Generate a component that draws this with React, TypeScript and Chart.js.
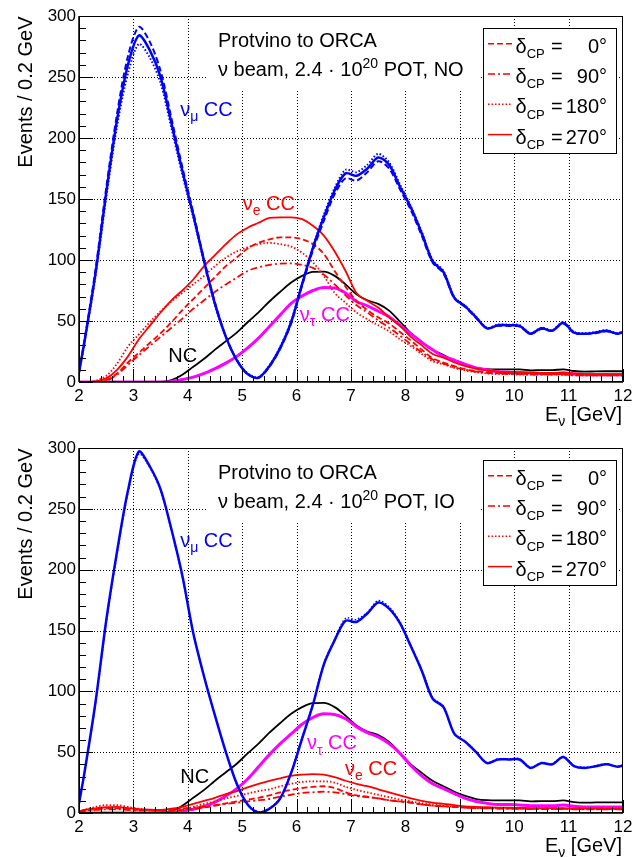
import React, { useEffect, useRef } from "react";
import { Chart, registerables } from "chart.js";

Chart.register(...registerables);

// ---------------- data ----------------
// neutrino energy (GeV): bin centres of 0.2 GeV bins, plus the range ends
const E_NU = [
  2.0, 2.1, 2.3, 2.5, 2.7, 2.9, 3.1, 3.3, 3.5, 3.7,
  3.9, 4.1, 4.3, 4.5, 4.7, 4.9, 5.1, 5.3, 5.5, 5.7,
  5.9, 6.1, 6.3, 6.5, 6.7, 6.9, 7.1, 7.3, 7.5, 7.7,
  7.9, 8.1, 8.3, 8.5, 8.7, 8.9, 9.1, 9.3, 9.5, 9.7,
  9.9, 10.1, 10.3, 10.5, 10.7, 10.9, 11.1, 11.3, 11.5, 11.7,
  11.9, 12.0,
];

const X_TICKS = [2, 3, 4, 5, 6, 7, 8, 9, 10, 11, 12];
const Y_TICKS = [0, 50, 100, 150, 200, 250, 300];
const DELTA_CP = ["0", "90", "180", "270"];

// ---- Normal ordering ----
const NUMU_NO_270 = [
  8, 33, 88, 155, 215, 260, 284, 272, 250, 212,
  173, 137, 99, 64, 37, 18, 6.5, 3.5, 13, 28,
  49, 80, 110, 135, 157, 171, 169, 175, 184, 178,
  160, 143, 122, 99, 90, 69, 62, 53, 44, 46.5,
  46.5, 46, 39.5, 44, 42, 48.5, 40.5, 39.5, 40.5, 42,
  39.5, 41,
];
const NUMU_NO_0 = [
  8, 34, 91, 159, 220, 267, 291, 279, 255, 216,
  176, 139, 100, 65, 37, 18, 6.5, 3.5, 12.5, 27.5,
  48, 79, 108, 132, 154, 167, 165, 172, 181, 175,
  158, 141, 120, 98, 89, 68.5, 61.5, 52.5, 44, 46,
  46, 45.5, 39.5, 43.5, 42, 48, 40, 39.5, 40, 41.5,
  39.5, 40.5,
];
const NUMU_NO_180 = [
  8, 32, 86, 151, 210, 253, 277, 266, 245, 208,
  170, 135, 98, 63, 37, 18, 7, 4, 13.5, 29,
  50, 81, 111, 137, 159, 174, 172, 178, 187, 180,
  162, 144, 123, 100, 91, 69.5, 62.5, 53.5, 44.5, 47,
  47, 46.5, 40, 44.5, 42.5, 49, 41, 40, 41, 42.5,
  40, 41.5,
];
const NUE_NO_0 = [
  0, 0, 0, 1.5, 7, 16, 24, 32, 40, 49,
  59, 68, 77, 86, 95, 102, 109.5, 114, 117, 118.5,
  118.5, 117, 113, 105, 91, 78, 66.5, 59, 53, 48,
  41, 34, 26.5, 19.5, 16, 13, 10.5, 9, 8, 7.5,
  7, 7, 6.5, 6.5, 6.5, 6.5, 6, 6, 6, 6,
  6, 6,
];
const NUE_NO_90 = [
  0, 0, 0, 1, 6, 14, 22, 29.5, 37, 44.5,
  52, 60, 67, 74, 80, 85.5, 91, 94, 96, 97,
  97.3, 96, 93.5, 88, 80, 71, 63, 57, 50.5, 44.5,
  38, 31, 24.5, 18.5, 15, 12, 10, 8.5, 7.5, 7,
  6.5, 6.5, 6, 6, 6, 6, 5.5, 5.5, 5.5, 5.5,
  5.5, 5.5,
];
const NUE_NO_180 = [
  0, 0, 1, 5, 15, 29, 39, 49, 58, 66,
  73, 80, 87, 95, 102, 107, 110.5, 113, 114, 113,
  111, 106, 98, 87, 73, 65, 57, 51.5, 46.5, 41.5,
  35, 29.5, 23, 17, 14.5, 11.5, 9.5, 8, 7, 6.5,
  6.5, 6, 6, 6, 6, 6, 5.5, 5.5, 5.5, 5.5,
  5.5, 5.5,
];
const NUE_NO_270 = [
  0, 0, 0.5, 3, 10, 21, 35, 46, 57, 67,
  75, 84, 95, 104, 113, 121, 126.5, 130.5, 134.5, 135,
  135, 133.5, 128, 120, 107, 91, 73, 66.5, 61, 53,
  46, 37, 30, 23, 20, 16, 13, 11, 9.5, 8.5,
  8, 8, 7.5, 7.5, 7.5, 7.5, 7, 6.5, 6.5, 6.5,
  6.5, 6.5,
];
const NUTAU_NO = [
  0, 0, 0, 0, 0, 0, 0, 0, 0, 0.5,
  2, 4, 7, 11, 15.5, 21, 28, 36, 45.5, 55,
  64.5, 70.5, 75, 77.5, 77, 73, 66, 62.5, 58, 53.5,
  46.5, 39.5, 32.5, 26.5, 21, 18, 14.5, 11.5, 10, 8.5,
  8, 7.5, 7.5, 7, 7, 7.5, 6.5, 6, 6, 6,
  6, 6,
];
// neutral current (same for both orderings)
const NC_ALL = [
  0, 0, 0, 0, 0, 0, 0, 0, 0, 1.5,
  6, 12.5, 19, 26.5, 33.5, 40.5, 49, 57, 66, 74,
  81.5, 87, 90.3, 90.5, 87, 80, 72, 67, 64, 58.5,
  49.5, 40, 33, 26.5, 22, 17.5, 14, 11.5, 10.5, 10.3,
  10.3, 10.3, 9.5, 9.8, 9.8, 10.3, 9, 8.5, 8.7, 8.8,
  8.8, 8.8,
];

// ---- Inverted ordering ----
const NUMU_IO_270 = [
  8, 33, 90, 158, 215, 265, 297, 285, 266, 233,
  195, 148, 112, 80, 50, 24, 7, 0.5, 3.5, 12,
  33, 61, 89, 122, 142, 158, 157, 164, 173, 168,
  156, 137, 117, 94, 87, 65, 58.5, 50, 41, 44,
  44, 44, 37, 41, 40, 46, 38.5, 37, 38.5, 40,
  38, 39,
];
const NUMU_IO_180 = [
  8, 33, 89, 156, 213, 263, 295, 284, 265, 232,
  194, 148, 112, 80, 50, 24, 7, 1, 4, 12.5,
  34, 62, 90, 123, 143, 160, 159, 165, 174.5, 169.5,
  157, 138, 118, 95, 87.5, 65.5, 59, 50.5, 41.5, 44.5,
  44.5, 44.5, 37.5, 41.5, 40.5, 46.5, 39, 37.5, 39, 40.5,
  38.5, 39.5,
];
const NUE_IO_0 = [
  1, 2, 3, 3.8, 3.8, 3, 2.5, 2, 1.8, 2,
  2.5, 3.5, 4.5, 6, 8, 9.5, 11, 12.5, 14.5, 17,
  19, 20.5, 21.5, 22, 20.5, 17, 14.5, 13.5, 12, 10.5,
  9.5, 8.5, 7, 6, 5.5, 5, 4.5, 4, 4, 3.8,
  3.8, 3.6, 3.5, 3.5, 3.5, 3.5, 3.3, 3.2, 3.2, 3.2,
  3.2, 3.2,
];
const NUE_IO_90 = [
  0.5, 1.5, 2.5, 3, 3, 2.5, 2, 2, 2, 2.5,
  3.5, 4.5, 5.5, 6.5, 7.5, 8.5, 9.5, 10.5, 11.5, 13.5,
  15, 16.5, 17, 17.5, 17, 15.5, 14, 13, 12, 10.5,
  9.5, 8.5, 7, 6, 5.5, 5, 4.5, 4, 3.8, 3.6,
  3.5, 3.4, 3.3, 3.3, 3.3, 3.3, 3.1, 3, 3, 3,
  3, 3,
];
const NUE_IO_180 = [
  1, 2.5, 5, 6.5, 6.5, 5, 3.5, 2.5, 2, 2.5,
  3.5, 5, 7.5, 9.5, 12, 14, 16, 18, 19.5, 22,
  24, 25.5, 26, 26, 25, 21.5, 19, 17, 15, 13,
  11, 9.5, 8, 7, 6, 5, 4.5, 4.2, 4, 3.8,
  3.8, 3.6, 3.5, 3.5, 3.5, 3.5, 3.3, 3.2, 3.2, 3.2,
  3.2, 3.2,
];
const NUE_IO_270 = [
  1.5, 2.5, 3.8, 4.8, 5, 4, 3.2, 2.8, 2.6, 3.5,
  5, 7.5, 10, 12.5, 15.5, 18, 21, 24, 26.5, 28.5,
  30.5, 31.5, 32, 31.5, 29.5, 26.5, 24, 22, 19.5, 17,
  14.5, 12, 10, 8.5, 7.5, 6.5, 5.5, 5, 4.8, 4.5,
  4.3, 4.2, 4, 4, 4, 4, 3.8, 3.6, 3.6, 3.6,
  3.6, 3.6,
];
const NUTAU_IO = [
  0, 0, 0, 0, 0, 0, 0, 0, 0, 0.5,
  1.5, 3, 5.5, 9, 14, 20, 28, 38, 48, 57,
  65, 73, 78.5, 81.5, 81, 77.5, 71, 66, 62.5, 57,
  49, 39, 30.5, 24, 20, 16, 12, 9.5, 8, 7,
  7, 6.5, 6, 6, 6, 6.5, 5.5, 5, 5, 5,
  5, 5,
];

// ---------------- styling ----------------
const FONT = '"Liberation Sans", Arial, Helvetica, sans-serif';
const BLUE = "#0000ff";
const RED = "#ff0000";
const MAGENTA = "#ff00ff";
const BLACK = "#000000";

const DASH_SOLID: number[] = [];
const DASH_DASHED = [6, 3];
const DASH_DASHDOT = [7, 3, 2, 3];
const DASH_DOTTED = [1.5, 2];
const LEGEND_DASHES = [DASH_DASHED, DASH_DASHDOT, DASH_DOTTED, DASH_SOLID];

type Seg = { t: string; sub?: boolean; sup?: boolean };

function pts(ys: number[]) {
  return E_NU.map((x, i) => ({ x, y: ys[i] }));
}

function ds(ys: number[], color: string, width: number, dash: number[], smooth = false) {
  const base: any = {
    data: pts(ys),
    borderColor: color,
    borderWidth: width,
    borderDash: dash,
    pointRadius: 0,
    fill: false,
  };
  if (smooth) {
    base.tension = 0.3;
  } else {
    base.cubicInterpolationMode = "monotone";
  }
  return base;
}

function drawRich(
  ctx: CanvasRenderingContext2D,
  x: number,
  y: number,
  segs: Seg[],
  size: number,
  color: string,
  align: "left" | "right" = "left",
  subScale = 0.7
) {
  const small = Math.round(size * subScale);
  const widths = segs.map((s) => {
    ctx.font = `${s.sub || s.sup ? small : size}px ${FONT}`;
    return ctx.measureText(s.t).width;
  });
  const total = widths.reduce((a, b) => a + b, 0);
  let cx = align === "right" ? x - total : x;
  ctx.fillStyle = color;
  ctx.textAlign = "left";
  ctx.textBaseline = "alphabetic";
  segs.forEach((s, i) => {
    ctx.font = `${s.sub || s.sup ? small : size}px ${FONT}`;
    const dy = s.sub ? size * 0.27 : s.sup ? -size * 0.42 : 0;
    ctx.fillText(s.t, cx, y + dy);
    cx += widths[i];
  });
}

type Label = { segs: Seg[]; x: number; y: number; color: string };

type PanelCfg = {
  ordering: string;
  datasets: any[];
  labels: Label[];
  padTop: number;
  padBottom: number;
};

const NU = "\u03BD";

const TOP_CFG: PanelCfg = {
  ordering: "NO",
  padTop: 16,
  padBottom: 47,
  datasets: [
    ds(NUMU_NO_270, BLUE, 2.5, DASH_SOLID, true),
    ds(NUMU_NO_0, BLUE, 2, DASH_DASHED, true),
    ds(NUMU_NO_180, BLUE, 2, DASH_DOTTED, true),
    ds(NUE_NO_270, RED, 1.8, DASH_SOLID),
    ds(NUE_NO_0, RED, 1.8, DASH_DASHED),
    ds(NUE_NO_90, RED, 1.8, DASH_DASHDOT),
    ds(NUE_NO_180, RED, 1.8, DASH_DOTTED),
    ds(NUTAU_NO, MAGENTA, 3, DASH_SOLID),
    ds(NC_ALL, BLACK, 1.8, DASH_SOLID),
  ],
  labels: [
    { segs: [{ t: NU }, { t: "\u03BC", sub: true }, { t: " CC" }], x: 3.86, y: 218, color: BLUE },
    { segs: [{ t: NU }, { t: "e", sub: true }, { t: " CC" }], x: 5.01, y: 141, color: RED },
    { segs: [{ t: "NC" }], x: 3.64, y: 16.4, color: BLACK },
    { segs: [{ t: NU }, { t: "\u03C4", sub: true }, { t: " CC" }], x: 6.06, y: 50.2, color: MAGENTA },
  ],
};

const BOTTOM_CFG: PanelCfg = {
  ordering: "IO",
  padTop: 19,
  padBottom: 45,
  datasets: [
    ds(NUMU_IO_270, BLUE, 2.5, DASH_SOLID, true),
    ds(NUMU_IO_180, BLUE, 1.5, DASH_DOTTED, true),
    ds(NUE_IO_270, RED, 1.8, DASH_SOLID),
    ds(NUE_IO_0, RED, 1.8, DASH_DASHED),
    ds(NUE_IO_90, RED, 1.8, DASH_DASHDOT),
    ds(NUE_IO_180, RED, 1.8, DASH_DOTTED),
    ds(NUTAU_IO, MAGENTA, 3, DASH_SOLID),
    ds(NC_ALL, BLACK, 1.8, DASH_SOLID),
  ],
  labels: [
    { segs: [{ t: NU }, { t: "\u03BC", sub: true }, { t: " CC" }], x: 3.86, y: 218.8, color: BLUE },
    { segs: [{ t: "NC" }], x: 3.86, y: 24.4, color: BLACK },
    { segs: [{ t: NU }, { t: "\u03C4", sub: true }, { t: " CC" }], x: 6.19, y: 52.3, color: MAGENTA },
    { segs: [{ t: NU }, { t: "e", sub: true }, { t: " CC" }], x: 6.89, y: 31.2, color: RED },
  ],
};

function line(ctx: CanvasRenderingContext2D, x1: number, y1: number, x2: number, y2: number) {
  ctx.beginPath();
  ctx.moveTo(x1, y1);
  ctx.lineTo(x2, y2);
  ctx.stroke();
}

function makePlugin(cfg: PanelCfg) {
  return {
    id: "rootStyle",
    beforeDatasetsDraw(chart: any) {
      const { ctx, chartArea: a, scales } = chart;
      const xs = scales.x;
      const ys = scales.y;
      ctx.save();
      // dotted grid
      ctx.strokeStyle = "#000";
      ctx.lineWidth = 1;
      ctx.setLineDash([1, 2]);
      X_TICKS.slice(1, -1).forEach((v) => {
        const px = Math.round(xs.getPixelForValue(v)) + 0.5;
        line(ctx, px, a.top, px, a.bottom);
      });
      Y_TICKS.slice(1, -1).forEach((v) => {
        const py = Math.round(ys.getPixelForValue(v)) + 0.5;
        line(ctx, a.left, py, a.right, py);
      });
      ctx.setLineDash([]);
      // white boxes (text pave + legend)
      ctx.fillStyle = "#fff";
      ctx.fillRect(a.left + 129, a.top + 1, a.right - 142 - (a.left + 129), 73);
      ctx.fillRect(a.right - 140, a.top + 12, 133, 125);
      ctx.restore();
    },
    afterDatasetsDraw(chart: any) {
      const { ctx, chartArea: a, scales } = chart;
      const xs = scales.x;
      const ys = scales.y;
      ctx.save();
      ctx.strokeStyle = "#000";
      ctx.setLineDash([]);
      // frame
      ctx.lineWidth = 1;
      ctx.strokeRect(a.left + 0.5, a.top + 0.5, a.right - a.left - 1, a.bottom - a.top - 1);
      ctx.lineWidth = 1.5;
      line(ctx, a.left, a.top, a.left, a.bottom);
      line(ctx, a.left, a.bottom, a.right, a.bottom);
      // ticks (inside)
      ctx.lineWidth = 1;
      for (let i = 0; i <= 30; i++) {
        const py = Math.round(ys.getPixelForValue(i * 10)) + 0.5;
        line(ctx, a.left, py, a.left + (i % 5 === 0 ? 14 : 7), py);
      }
      for (let i = 0; i <= 50; i++) {
        const px = Math.round(xs.getPixelForValue(2 + i * 0.2)) + 0.5;
        line(ctx, px, a.bottom, px, a.bottom - (i % 5 === 0 ? 13 : 6));
      }
      // tick labels
      ctx.fillStyle = "#000";
      ctx.font = `17px ${FONT}`;
      ctx.textAlign = "right";
      ctx.textBaseline = "middle";
      Y_TICKS.forEach((v) => ctx.fillText(String(v), a.left - 3, ys.getPixelForValue(v)));
      ctx.textAlign = "center";
      ctx.textBaseline = "alphabetic";
      X_TICKS.forEach((v) => ctx.fillText(String(v), xs.getPixelForValue(v), a.bottom + 19));
      // axis titles
      drawRich(ctx, a.right - 1, a.bottom + 39, [{ t: "E" }, { t: NU, sub: true }, { t: " [GeV]" }], 20, "#000", "right");
      ctx.save();
      ctx.translate(31.5, a.top + 0.5);
      ctx.rotate(-Math.PI / 2);
      ctx.font = `20px ${FONT}`;
      ctx.textAlign = "right";
      ctx.textBaseline = "alphabetic";
      ctx.fillStyle = "#000";
      ctx.fillText("Events / 0.2 GeV", 0, 0);
      ctx.restore();
      // text pave
      drawRich(ctx, a.left + 139, a.top + 31, [{ t: "Protvino to ORCA" }], 20, "#000");
      drawRich(
        ctx,
        a.left + 139,
        a.top + 60,
        [{ t: `${NU} beam, 2.4 \u00B7 10` }, { t: "20", sup: true }, { t: ` POT, ${cfg.ordering}` }],
        20,
        "#000"
      );
      // legend
      const lx = a.right - 140;
      const ly = a.top + 12;
      ctx.lineWidth = 1;
      ctx.strokeStyle = "#000";
      ctx.strokeRect(Math.round(lx) + 0.5, Math.round(ly) + 0.5, 133, 125);
      DELTA_CP.forEach((val, i) => {
        const base = ly + 24.7 + i * 30.3;
        ctx.strokeStyle = RED;
        ctx.lineWidth = 1.5;
        ctx.setLineDash(LEGEND_DASHES[i]);
        line(ctx, lx + 5, base - 9, lx + 29, base - 9);
        ctx.setLineDash([]);
        drawRich(ctx, lx + 32.5, base, [{ t: "\u03B4" }, { t: "CP", sub: true }], 20, "#000", "left", 0.66);
        drawRich(ctx, lx + 68, base, [{ t: "=" }], 20, "#000");
        drawRich(ctx, lx + 124, base, [{ t: `${val}\u00B0` }], 20, "#000", "right");
      });
      // curve labels
      cfg.labels.forEach((l) => {
        drawRich(ctx, xs.getPixelForValue(l.x), ys.getPixelForValue(l.y), l.segs, 20, l.color);
      });
      ctx.restore();
    },
  };
}

function Panel({ cfg, top }: { cfg: PanelCfg; top: number }) {
  const ref = useRef<HTMLCanvasElement>(null);
  useEffect(() => {
    const canvas = ref.current;
    if (!canvas) return;
    const chart = new Chart(canvas, {
      type: "line",
      data: { datasets: cfg.datasets },
      options: {
        responsive: false,
        animation: false,
        devicePixelRatio: 1,
        events: [],
        layout: { padding: { left: 79, right: 21, top: cfg.padTop, bottom: cfg.padBottom } },
        scales: {
          x: { type: "linear", min: 2, max: 12, display: false },
          y: { type: "linear", min: 0, max: 300, display: false },
        },
        plugins: { legend: { display: false }, tooltip: { enabled: false } },
      },
      plugins: [makePlugin(cfg)],
    } as any);
    return () => chart.destroy();
  }, [cfg]);
  return (
    <canvas
      ref={ref}
      width={644}
      height={429}
      style={{ position: "absolute", left: 0, top, width: 644, height: 429, display: "block" }}
    />
  );
}

export default function App() {
  return (
    <div style={{ position: "absolute", left: 0, top: 0, width: 644, height: 858, background: "#fff" }}>
      <Panel cfg={TOP_CFG} top={0} />
      <Panel cfg={BOTTOM_CFG} top={429} />
    </div>
  );
}
